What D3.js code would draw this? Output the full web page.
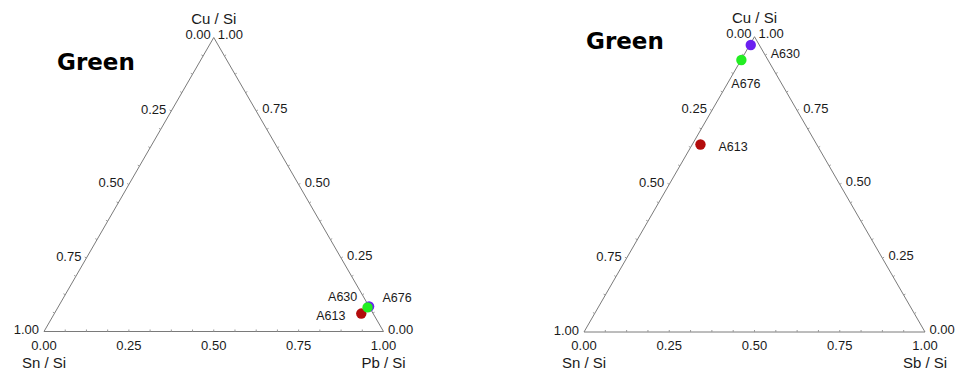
<!DOCTYPE html>
<html lang="en">
<head>
<meta charset="UTF-8">
<title>Ternary plots - Green</title>
<script src="https://d3js.org/d3.v7.min.js"></script>
<style>
  body { margin: 0; background: #fff; }
  svg text { font-family: "Liberation Sans", Arial, sans-serif; fill: #1a1a1a; }
  .title { font-family: "Comic Sans MS", "DejaVu Sans", sans-serif !important; font-weight: bold; fill: #000; }
</style>
</head>
<body>
<svg id="chart" width="956" height="371"></svg>
<script>
// tick labels along each edge
const tickValues = [0, 0.25, 0.5, 0.75, 1];
const tickLabels = ["0.00", "0.25", "0.50", "0.75", "1.00"];

// left plot: Cu / Sn / Pb
const leftSamples = ["A613", "A630", "A676"];
const leftCu = [0.061, 0.085, 0.082];
const leftSn = [0.035, 0.000, 0.006];
const leftPb = [0.904, 0.915, 0.912];

// right plot: Cu / Sn / Sb
const rightSamples = ["A613", "A630", "A676"];
const rightCu = [0.635, 0.972, 0.921];
const rightSn = [0.341, 0.025, 0.078];
const rightSb = [0.024, 0.003, 0.001];

const sampleColors = { A613: "#b30c0c", A630: "#6a1ff0", A676: "#22ee22" };

const svg = d3.select("#chart");

function ternary(opts) {
  const g = svg.append("g");
  const x = d3.scaleLinear().domain([0, 1]).range([opts.left, opts.right]);
  const y = d3.scaleLinear().domain([0, 1]).range([opts.base, opts.top]);
  // composition -> pixel
  const px = (cu, br) => x(br + cu / 2);
  const py = cu => y(cu);

  const A = [px(1, 0), py(1)], BL = [px(0, 0), py(0)], BR = [px(0, 1), py(0)];

  g.append("path")
    .attr("d", d3.line()([A, BL, BR, A]))
    .attr("fill", "none").attr("stroke", "#7a7a7a").attr("stroke-width", 1);

  // minor ticks every 1/16
  const minor = d3.range(1, 16).map(i => i / 16);
  const tk = 2;
  const tc = "#9a9a9a";
  minor.forEach(t => {
    // bottom (right component)
    g.append("line").attr("x1", px(0, t)).attr("x2", px(0, t))
      .attr("y1", py(0)).attr("y2", py(0) - tk).attr("stroke", tc);
    // left edge (Sn grows downward)
    const lx = px(1 - t, 0), ly = py(1 - t);
    g.append("line").attr("x1", lx).attr("x2", lx - tk * 0.866)
      .attr("y1", ly).attr("y2", ly - tk * 0.5).attr("stroke", tc);
    // right edge (Cu)
    const rx = px(t, 1 - t), ry = py(t);
    g.append("line").attr("x1", rx).attr("x2", rx + tk * 0.866)
      .attr("y1", ry).attr("y2", ry - tk * 0.5).attr("stroke", tc);
  });

  const fs = 13;
  // bottom axis labels
  tickValues.forEach((t, i) => {
    g.append("text").attr("x", px(0, t)).attr("y", py(0) + 18)
      .attr("text-anchor", "middle").style("font-size", fs + "px").text(tickLabels[i]);
  });
  // left edge labels (Sn): 0.25..1.00 downward
  tickValues.slice(1).forEach((t, i) => {
    g.append("text").attr("x", px(1 - t, 0) - 5).attr("y", py(1 - t) + 2.5)
      .attr("text-anchor", "end").style("font-size", fs + "px").text(tickLabels[i + 1]);
  });
  // right edge labels (Cu): 0.00..0.75
  tickValues.slice(0, 4).forEach((t, i) => {
    g.append("text").attr("x", px(t, 1 - t) + (t === 0 ? 4.5 : 6)).attr("y", py(t) + 2)
      .attr("text-anchor", "start").style("font-size", fs + "px").text(tickLabels[i]);
  });
  // apex labels
  g.append("text").attr("x", A[0] - 3).attr("y", A[1] + 1)
    .attr("text-anchor", "end").style("font-size", fs + "px").text(tickLabels[0]);
  g.append("text").attr("x", A[0] + 4).attr("y", A[1] + 1)
    .attr("text-anchor", "start").style("font-size", fs + "px").text(tickLabels[4]);

  // axis names
  g.append("text").attr("x", A[0]).attr("y", A[1] - 13.5)
    .attr("text-anchor", "middle").style("font-size", "15px").text(opts.topName);
  g.append("text").attr("x", BL[0]).attr("y", BL[1] + 36)
    .attr("text-anchor", "middle").style("font-size", "15px").text(opts.leftName);
  g.append("text").attr("x", BR[0]).attr("y", BR[1] + 36)
    .attr("text-anchor", "middle").style("font-size", "15px").text(opts.rightName);

  // title
  g.append("text").attr("class", "title").attr("x", opts.titleX).attr("y", opts.titleY)
    .style("font-size", "23px").text("Green");

  // points
  opts.order.forEach(i => {
    g.append("circle")
      .attr("cx", px(opts.cu[i], opts.br[i])).attr("cy", py(opts.cu[i]))
      .attr("r", 5.2).attr("fill", sampleColors[opts.samples[i]]);
  });
  opts.samples.forEach((s, i) => {
    const off = opts.labelOff[i];
    g.append("text")
      .attr("x", px(opts.cu[i], opts.br[i]) + off[0])
      .attr("y", py(opts.cu[i]) + off[1])
      .style("font-size", "12.5px").text(s);
  });
}

ternary({
  left: 44, right: 383.5, base: 331.5, top: 37.5,
  topName: "Cu / Si", leftName: "Sn / Si", rightName: "Pb / Si",
  titleX: 57, titleY: 70,
  samples: leftSamples, cu: leftCu, br: leftPb,
  order: [0, 1, 2],
  labelOff: [[-45, 6], [-41, -6], [15, -5]]
});

ternary({
  left: 584, right: 925, base: 332, top: 36.7,
  topName: "Cu / Si", leftName: "Sn / Si", rightName: "Sb / Si",
  titleX: 586, titleY: 49,
  samples: rightSamples, cu: rightCu, br: rightSb,
  order: [0, 1, 2],
  labelOff: [[18, 7], [20, 13], [-10, 28]]
});
</script>
</body>
</html>
